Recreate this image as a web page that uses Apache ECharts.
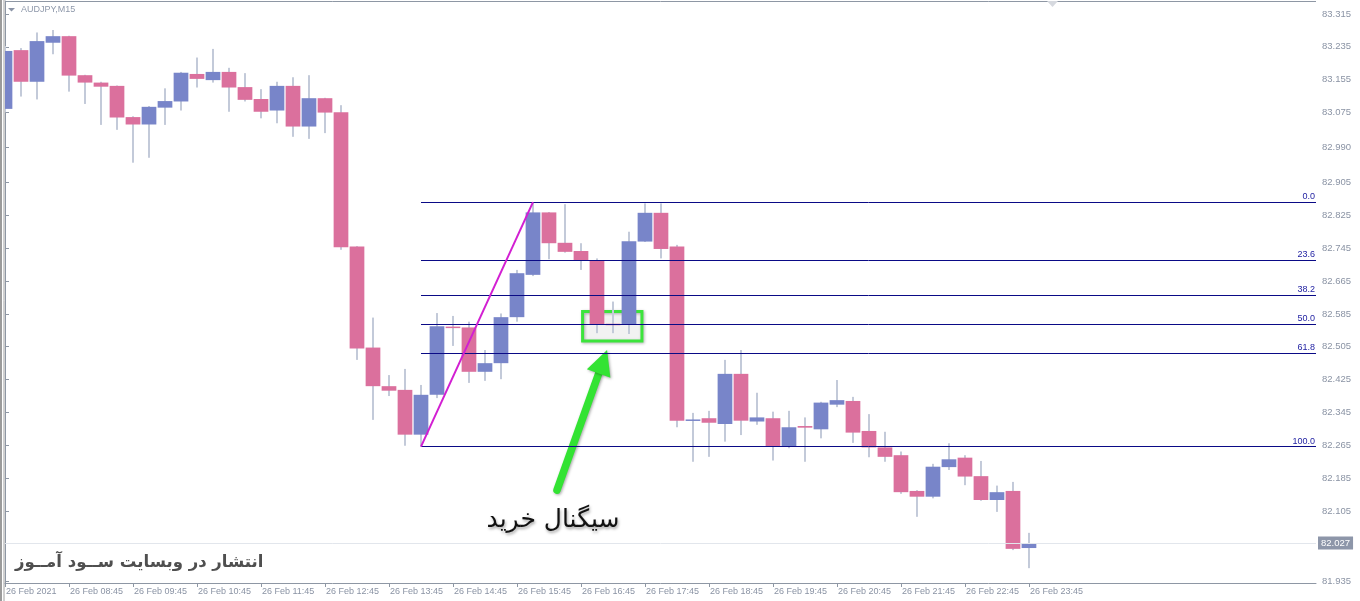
<!DOCTYPE html>
<html>
<head>
<meta charset="utf-8">
<script src="https://cdn.jsdelivr.net/npm/echarts@6/dist/echarts.min.js"></script>
<style>
html,body{margin:0;padding:0;background:#ffffff;}
#chart{width:1360px;height:601px;}
</style>
</head>
<body>
<div id="chart"></div>
<script>
// ---------------- data ----------------
const symbolLabel = 'AUDJPY,M15';
const xTickLabels = ['26 Feb 2021','26 Feb 08:45','26 Feb 09:45','26 Feb 10:45','26 Feb 11:45','26 Feb 12:45',
  '26 Feb 13:45','26 Feb 14:45','26 Feb 15:45','26 Feb 16:45','26 Feb 17:45','26 Feb 18:45','26 Feb 19:45',
  '26 Feb 20:45','26 Feb 21:45','26 Feb 22:45','26 Feb 23:45'];
const barsPerTick = 4;

const opens  = [83.084,83.227,83.150,83.245,83.261,83.166,83.148,83.140,83.064,83.046,83.087,83.102,83.169,83.154,83.174,83.137,83.108,83.080,83.140,83.041,
                83.110,83.076,82.749,82.503,82.409,82.400,82.291,82.388,82.554,82.552,82.444,82.465,82.577,82.680,82.832,82.758,82.738,82.716,82.561,82.558,
                82.761,82.831,82.749,82.325,82.331,82.317,82.439,82.323,82.331,82.262,82.312,82.304,82.364,82.373,82.300,82.260,82.241,82.154,82.140,82.212,
                82.235,82.190,82.132,82.154,82.015];
const highs  = [83.237,83.232,83.270,83.276,83.262,83.167,83.150,83.141,83.066,83.091,83.134,83.174,83.209,83.230,83.184,83.171,83.132,83.150,83.161,83.166,
                83.111,83.093,82.750,82.576,82.436,82.451,82.412,82.587,82.580,82.566,82.497,82.586,82.692,82.857,82.833,82.852,82.757,82.720,82.615,82.785,
                82.854,82.854,82.753,82.344,82.349,82.473,82.497,82.393,82.347,82.349,82.333,82.371,82.424,82.383,82.341,82.298,82.250,82.156,82.220,82.270,
                82.241,82.227,82.167,82.176,82.052];
const lows   = [83.076,83.114,83.107,83.217,83.126,83.096,83.045,83.033,82.953,82.965,83.045,83.080,83.136,83.148,83.077,83.102,83.061,83.049,83.016,83.011,
                83.025,82.741,82.473,82.327,82.385,82.264,82.262,82.380,82.507,82.417,82.422,82.426,82.566,82.677,82.718,82.734,82.692,82.538,82.538,82.536,
                82.760,82.720,82.309,82.225,82.237,82.274,82.290,82.315,82.228,82.258,82.225,82.282,82.358,82.271,82.236,82.225,82.147,82.091,82.136,82.205,
                82.168,82.130,82.103,82.010,81.966];
const closes = [83.225,83.150,83.249,83.261,83.165,83.148,83.138,83.063,83.046,83.089,83.103,83.172,83.157,83.174,83.136,83.106,83.077,83.140,83.041,83.110,
                83.075,82.747,82.501,82.409,82.398,82.291,82.388,82.555,82.551,82.444,82.465,82.577,82.684,82.832,82.757,82.736,82.716,82.558,82.559,82.762,
                82.831,82.743,82.325,82.328,82.320,82.439,82.325,82.333,82.263,82.309,82.308,82.369,82.375,82.296,82.260,82.237,82.151,82.140,82.213,82.231,
                82.189,82.132,82.151,82.013,82.027];

const yTickValues = [83.315,83.235,83.155,83.075,82.990,82.905,82.825,82.745,82.665,82.585,82.505,82.425,82.345,82.265,82.185,82.105,81.935];
const lastPrice = 82.027;

// Fibonacci retracement anchors (bar index, price)
const fibLow  = {index: 26, price: 82.262};
const fibHigh = {index: 33, price: 82.857};
const fibLevels = [0, 23.6, 38.2, 50, 61.8, 100];

// annotations (bar index, price)
const signalBox   = {from: [36.1, 82.591], to: [39.81, 82.519]};
const arrowTail   = [34.5, 82.156];
const arrowTip    = [37.63, 82.497];
const signalText  = 'سیگنال خرید';
const signalTextPos = [34.25, 82.083];
const watermark   = 'انتشار در وبسایت ســود آمــوز';

// ---------------- styles ----------------
const upColor = '#7885c9';
const downColor = '#db709d';
const wickColor = '#c3cad9';
const axisColor = '#8e97a4';
const labelColor = '#8a93a4';
const fibColor = '#0a0a86';
const xMax = 81.94;
const yMin = 81.9299, yMax = 83.3466;

const candleData = opens.map((o, i) => [i, o, closes[i], lows[i], highs[i]]);
const xTickIdx = xTickLabels.map((_, i) => i * barsPerTick);

const fibRange = fibHigh.price - fibLow.price;
const fibLines = fibLevels.map(lv => {
  const p = fibHigh.price - lv / 100 * fibRange;
  return [
    {coord: [fibLow.index, p], lineStyle: {color: fibColor, width: 1, type: 'solid'},
     label: {show: true, position: 'insideEndTop', formatter: lv.toFixed(1), color: '#1c1ca0',
             fontSize: 9, fontFamily: 'Liberation Sans', distance: [1, 1]}},
    {coord: [xMax, p]}
  ];
});

const chart = echarts.init(document.getElementById('chart'), null, {renderer: 'canvas'});

const option = {
  animation: false,
  backgroundColor: '#ffffff',
  grid: {left: 5, right: 44, top: 1, bottom: 18, containLabel: false},
  xAxis: {
    type: 'value', min: 0, max: xMax,
    splitLine: {show: false},
    axisLine: {show: true, lineStyle: {color: axisColor, width: 1}},
    axisTick: {show: true, length: 4, lineStyle: {color: axisColor}, customValues: xTickIdx},
    axisLabel: {show: true, customValues: xTickIdx, color: labelColor, fontSize: 9, fontFamily: 'Liberation Sans',
      align: 'left', margin: 4, padding: [0, 0, 0, 1],
      formatter: v => xTickLabels[Math.round(v / barsPerTick)] || ''}
  },
  yAxis: {
    type: 'value', position: 'right', min: yMin, max: yMax, scale: true,
    splitLine: {show: false},
    axisLine: {show: true, lineStyle: {color: axisColor, width: 1}},
    axisTick: {show: true, length: 4, lineStyle: {color: axisColor}, customValues: yTickValues},
    axisLabel: {show: true, customValues: yTickValues, color: labelColor, fontSize: 9.5, fontFamily: 'Liberation Sans',
      margin: 6, formatter: v => v.toFixed(3)}
  },
  series: [{
    type: 'custom',
    clip: true,
    silent: true,
    data: candleData,
    encode: {x: 0, y: [1, 2, 3, 4]},
    renderItem: function (params, api) {
      const x = api.value(0), o = api.value(1), c = api.value(2), l = api.value(3), h = api.value(4);
      const pO = api.coord([x, o]), pC = api.coord([x, c]), pL = api.coord([x, l]), pH = api.coord([x, h]);
      const bw = api.size([1, 0])[0] * 0.92;
      const top = Math.min(pO[1], pC[1]), bot = Math.max(pO[1], pC[1]);
      return {type: 'group', children: [
        {type: 'line', shape: {x1: pH[0], y1: pH[1], x2: pL[0], y2: pL[1]}, style: {stroke: wickColor, lineWidth: 2}},
        {type: 'rect', shape: {x: pO[0] - bw / 2, y: top, width: bw, height: Math.max(bot - top, 1.5)},
         style: {fill: c >= o ? upColor : downColor}}
      ]};
    },
    markLine: {
      silent: true, symbol: ['none', 'none'], animation: false,
      emphasis: {disabled: true},
      data: fibLines.concat([
        [{coord: [fibLow.index, fibLow.price], lineStyle: {color: '#d21fd2', width: 2, type: 'solid'}, label: {show: false}},
         {coord: [fibHigh.index, fibHigh.price]}],
        [{coord: [0, lastPrice], lineStyle: {color: '#e2e6ec', width: 1, type: 'solid'},
          label: {show: true, position: 'end', formatter: lastPrice.toFixed(3), color: '#ffffff', backgroundColor: '#8d96a9',
                  fontSize: 9.5, fontFamily: 'Liberation Sans', padding: [2, 3, 1, 3], distance: 2}},
         {coord: [xMax, lastPrice]}]
      ])
    },
    markArea: {
      silent: true, emphasis: {disabled: true},
      data: [[{coord: signalBox.from, itemStyle: {color: 'rgba(0,0,0,0.04)', borderColor: '#3ce43c', borderWidth: 3,
               shadowColor: 'rgba(0,0,0,0.3)', shadowBlur: 3, shadowOffsetX: 1, shadowOffsetY: 1}},
              {coord: signalBox.to}]]
    }
  }]
};
chart.setOption(option);

// --- annotations positioned through the axes ---
const toPx = v => chart.convertToPixel({xAxisIndex: 0, yAxisIndex: 0}, v);
const tip = toPx(arrowTip), tail = toPx(arrowTail), txt = toPx(signalTextPos);
const dx = tip[0] - tail[0], dy = tip[1] - tail[1], len = Math.sqrt(dx * dx + dy * dy);
const ux = dx / len, uy = dy / len, nx = -uy, ny = ux;
const headLen = 25, headHalf = 12.5;
const base = [tip[0] - ux * headLen, tip[1] - uy * headLen];
const green = '#33e333';
const shadow = {shadowColor: 'rgba(0,0,0,0.35)', shadowBlur: 3, shadowOffsetX: 1, shadowOffsetY: 1};

chart.setOption({
  graphic: [
    // window borders
    {type: 'line', shape: {x1: 1, y1: 0, x2: 1, y2: 601}, style: {stroke: '#7a7a7a', lineWidth: 1.5}, silent: true},
    {type: 'line', shape: {x1: 4, y1: 0, x2: 4, y2: 601}, style: {stroke: '#a0a0a0', lineWidth: 1}, silent: true},
    {type: 'line', shape: {x1: 5, y1: 1.5, x2: 1316, y2: 1.5}, style: {stroke: axisColor, lineWidth: 1}, silent: true},
    {type: 'polygon', shape: {points: [[1047, 1], [1058, 1], [1052.5, 7]]}, style: {fill: '#d6d9df'}, silent: true},
    // symbol title
    {type: 'polygon', shape: {points: [[8, 8], [15, 8], [11.5, 11.5]]}, style: {fill: '#8a93a6'}, silent: true},
    {type: 'text', left: 21, top: 5, style: {text: symbolLabel, fill: '#8e98aa', font: '9px "Liberation Sans"'}, silent: true},
    // arrow
    {type: 'line', shape: {x1: tail[0], y1: tail[1], x2: base[0] + ux * 2, y2: base[1] + uy * 2},
     style: Object.assign({stroke: green, lineWidth: 7.5, lineCap: 'round'}, shadow), silent: true},
    {type: 'polygon', shape: {points: [tip, [base[0] + nx * headHalf, base[1] + ny * headHalf], [base[0] - nx * headHalf, base[1] - ny * headHalf]]},
     style: Object.assign({fill: green}, shadow), silent: true},
    // signal text
    {type: 'text', x: txt[0], y: txt[1], style: {text: signalText, fill: '#111111', font: '25px "DejaVu Sans"',
      textAlign: 'center', textVerticalAlign: 'middle', textShadowColor: 'rgba(0,0,0,0.35)', textShadowBlur: 3,
      textShadowOffsetX: 1, textShadowOffsetY: 2}, silent: true},
    // watermark
    {type: 'text', x: 15, y: 563, style: {text: watermark, fill: '#4f4f4f', font: 'bold 16.5px "DejaVu Sans"',
      textAlign: 'left', textVerticalAlign: 'middle'}, silent: true}
  ]
});
</script>
</body>
</html>
